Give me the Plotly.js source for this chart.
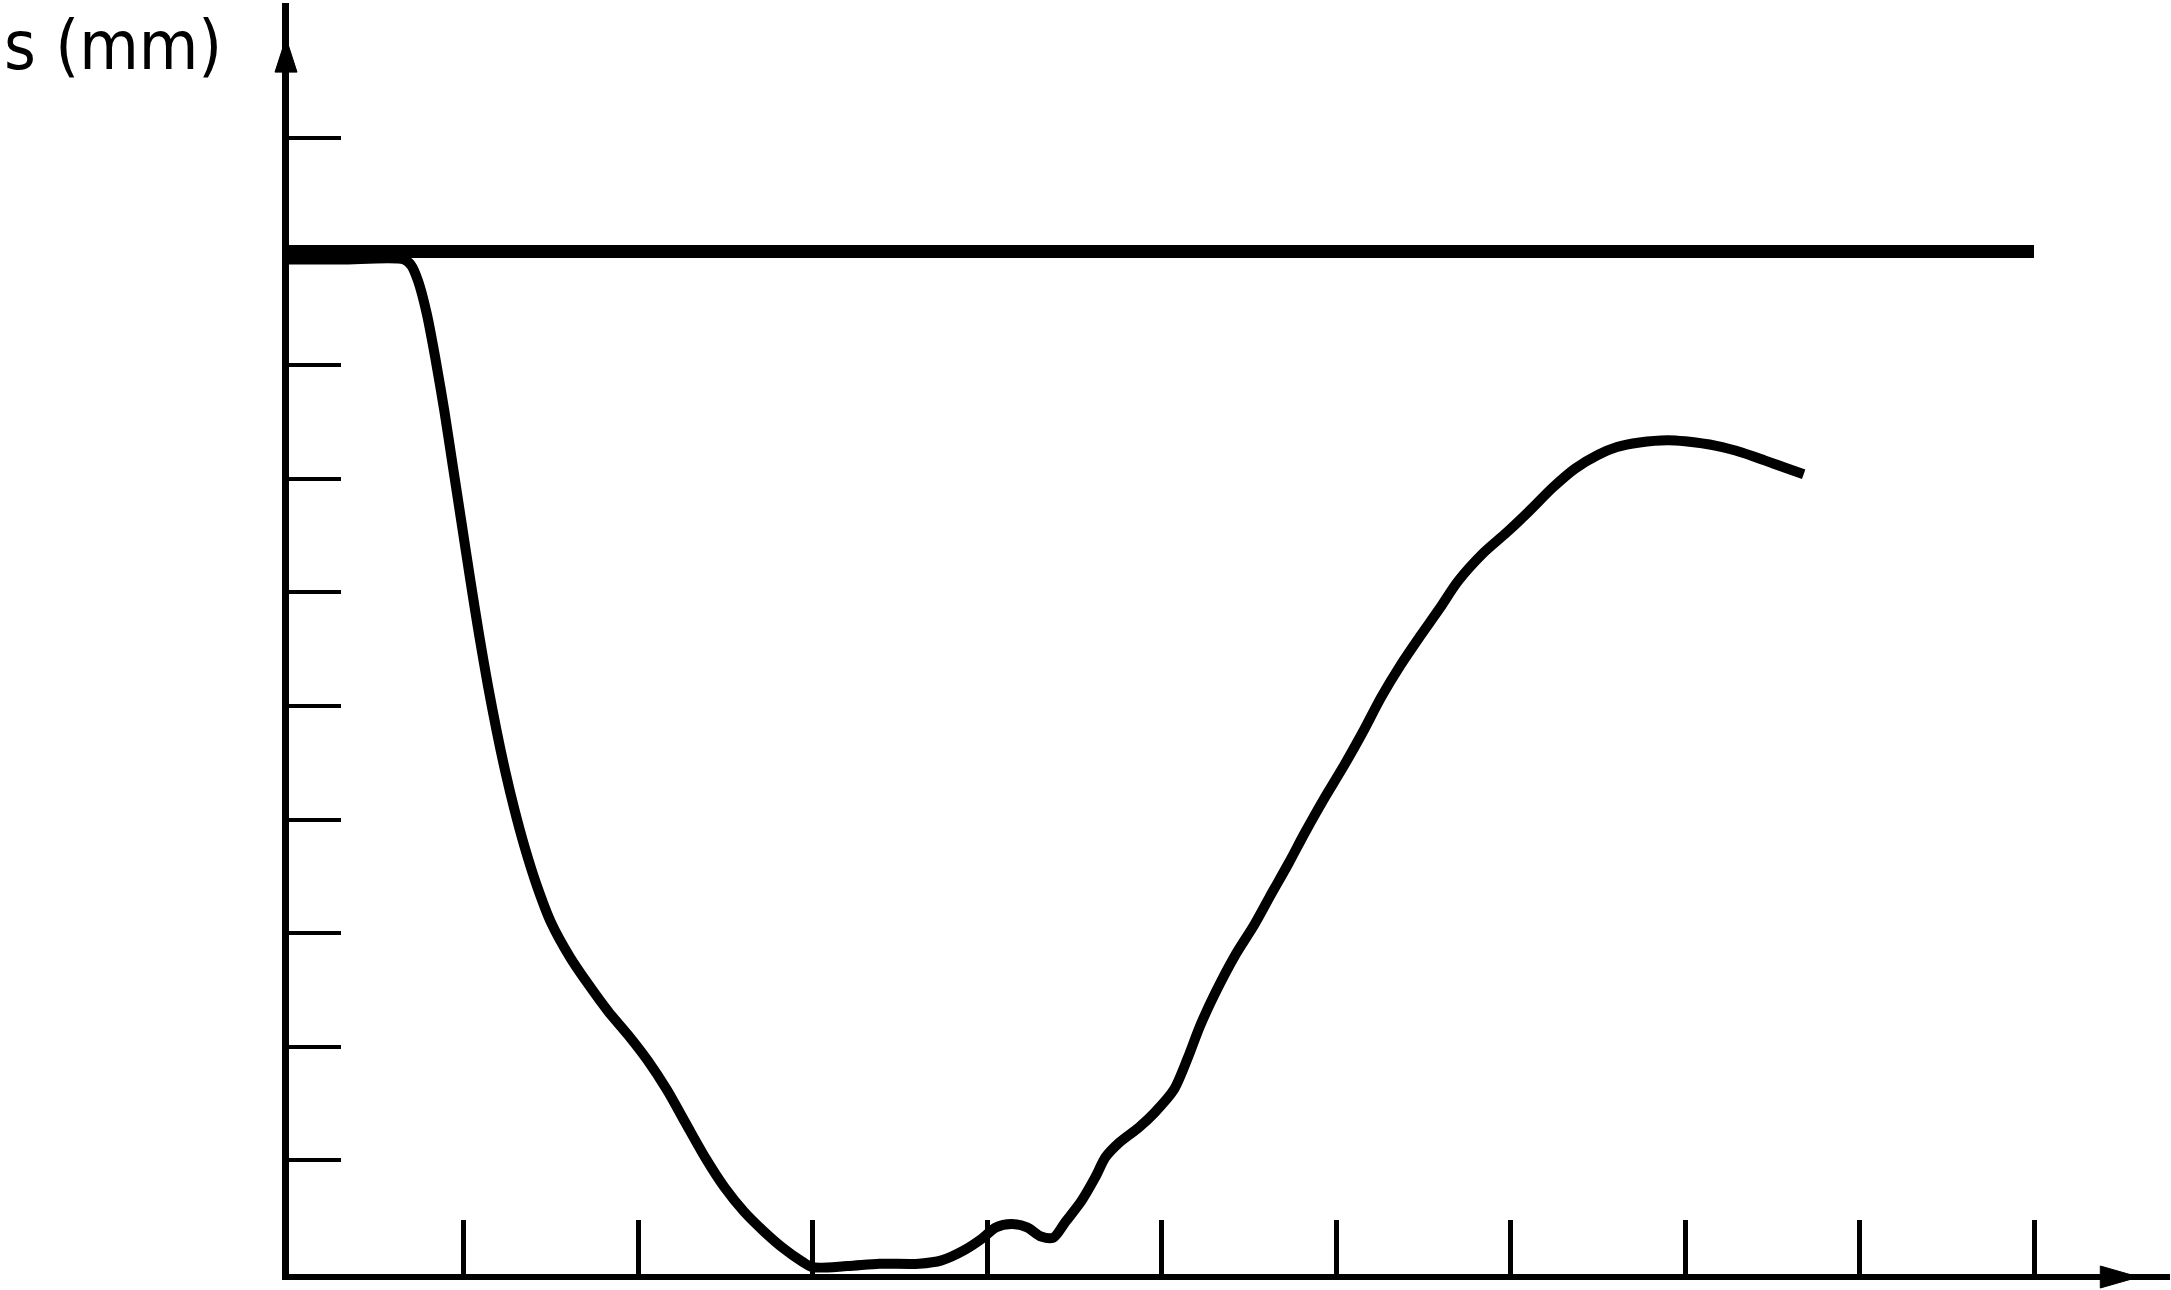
<!DOCTYPE html>
<html>
<head>
<meta charset="utf-8">
<script src="https://cdn.plot.ly/plotly-3.0.1.min.js"></script>
<style>
  html, body { margin: 0; padding: 0; background: #ffffff; }
  #chart { width: 2171px; height: 1290px; }
</style>
</head>
<body>
<div id="chart"></div>
<script>
// ---- data ----
const curveX = [0, 0.3, 0.66, 0.70, 0.74, 0.79, 0.84, 0.89, 0.94, 0.99, 1.04, 1.09, 1.14, 1.19, 1.24, 1.29,
  1.35, 1.42, 1.50, 1.61, 1.72, 1.83, 1.945, 2.055, 2.166, 2.276, 2.387, 2.497, 2.607, 2.718, 2.83,
  2.94, 3.0, 3.2, 3.385, 3.61, 3.74, 3.87, 3.97, 4.05, 4.14, 4.23, 4.31, 4.38, 4.45, 4.54, 4.62, 4.68,
  4.76, 4.87, 4.96, 5.07, 5.15, 5.22, 5.31, 5.42, 5.53, 5.62, 5.73, 5.82, 5.93, 6.04, 6.15, 6.26, 6.37,
  6.48, 6.59, 6.70, 6.84, 6.98, 7.11, 7.24, 7.37, 7.50, 7.61, 7.74, 7.90, 8.0, 8.18, 8.33, 8.46, 8.57, 8.68];
const curveY = [8.93, 8.93, 8.93, 8.88, 8.74, 8.45, 8.05, 7.6, 7.1, 6.6, 6.1, 5.62, 5.18, 4.78, 4.42, 4.1,
  3.76, 3.42, 3.1, 2.79, 2.54, 2.31, 2.1, 1.88, 1.62, 1.32, 1.02, 0.76, 0.55, 0.38, 0.23,
  0.11, 0.06, 0.07, 0.09, 0.09, 0.12, 0.21, 0.31, 0.41, 0.44, 0.41, 0.33, 0.32, 0.46, 0.64, 0.85, 1.03,
  1.16, 1.29, 1.42, 1.62, 1.9, 2.18, 2.48, 2.8, 3.07, 3.32, 3.62, 3.88, 4.18, 4.46, 4.76, 5.08, 5.36,
  5.61, 5.85, 6.1, 6.34, 6.53, 6.72, 6.92, 7.09, 7.21, 7.28, 7.32, 7.34, 7.33, 7.29, 7.23, 7.16, 7.10, 7.04];
const referenceX = [0, 10];
const referenceLevel = 9;
const xTickVals = [1, 2, 3, 4, 5, 6, 7, 8, 9, 10];
const yTickVals = [1, 2, 3, 4, 5, 6, 7, 8, 9, 10];
const yAxisLabel = 's (mm)';

// ---- layout constants ----
const W = 2171, H = 1290;
const M = { l: 289, r: 1, t: 3, b: 16 };
const plotW = W - M.l - M.r, plotH = H - M.t - M.b;
const xRange = [0, plotW / 174.5];
const yRange = [0, plotH / 113.6];

// paper coordinate helpers for axis arrowheads (decoration only)
const px2paperX = p => p / plotW;
const px2paperY = p => p / plotH;
const xToPaper = v => (v - xRange[0]) / (xRange[1] - xRange[0]);
const yToPaper = v => (v - yRange[0]) / (yRange[1] - yRange[0]);

const xArrowTip = 10.6, xArrowBase = 10.38, xArrowHalf = 11;   // data x, px
const yArrowTip = 10.88, yArrowBase = 10.58, yArrowHalf = 11;  // data y, px

const xArrowPath = 'M ' + xToPaper(xArrowTip) + ',' + (-px2paperY(3)) + ' L ' + xToPaper(xArrowBase) + ',' + px2paperY(xArrowHalf - 3) +
  ' L ' + xToPaper(xArrowBase) + ',' + (-px2paperY(xArrowHalf + 3)) + ' Z';
const yArrowPath = 'M ' + (-px2paperX(3)) + ',' + yToPaper(yArrowTip) + ' L ' + px2paperX(yArrowHalf - 3) + ',' + yToPaper(yArrowBase) +
  ' L ' + (-px2paperX(yArrowHalf + 3)) + ',' + yToPaper(yArrowBase) + ' Z';

const traces = [
  {
    x: referenceX,
    y: referenceX.map(() => referenceLevel),
    mode: 'lines',
    line: { color: '#000000', width: 13 },
    hoverinfo: 'skip',
    showlegend: false
  },
  {
    x: curveX,
    y: curveY,
    mode: 'lines',
    line: { color: '#000000', width: 10, shape: 'spline', smoothing: 0.8 },
    hoverinfo: 'skip',
    showlegend: false
  }
];

const layout = {
  width: W,
  height: H,
  margin: M,
  paper_bgcolor: '#ffffff',
  plot_bgcolor: '#ffffff',
  showlegend: false,
  xaxis: {
    range: xRange,
    showgrid: false,
    zeroline: false,
    showline: true,
    linecolor: '#000000',
    linewidth: 6,
    ticks: 'inside',
    tickvals: xTickVals,
    ticklen: 54,
    tickwidth: 5,
    tickcolor: '#000000',
    showticklabels: false,
    fixedrange: true
  },
  yaxis: {
    range: yRange,
    showgrid: false,
    zeroline: false,
    showline: true,
    linecolor: '#000000',
    linewidth: 7,
    ticks: 'inside',
    tickvals: yTickVals,
    ticklen: 52,
    tickwidth: 4,
    tickcolor: '#000000',
    showticklabels: false,
    fixedrange: true
  },
  shapes: [
    { type: 'path', xref: 'paper', yref: 'paper', path: xArrowPath, fillcolor: '#000000', line: { color: '#000000', width: 1 } },
    { type: 'path', xref: 'paper', yref: 'paper', path: yArrowPath, fillcolor: '#000000', line: { color: '#000000', width: 1 } }
  ],
  annotations: [
    {
      text: yAxisLabel,
      xref: 'paper', yref: 'paper',
      x: -(M.l - 3) / plotW, y: 1 - 2 / plotH,
      xanchor: 'left', yanchor: 'top',
      showarrow: false,
      borderpad: 0,
      font: { family: 'DejaVu Sans Condensed, DejaVu Sans, sans-serif', size: 68, color: '#000000' }
    }
  ]
};

Plotly.newPlot('chart', traces, layout, { staticPlot: true, displayModeBar: false });
</script>
</body>
</html>
